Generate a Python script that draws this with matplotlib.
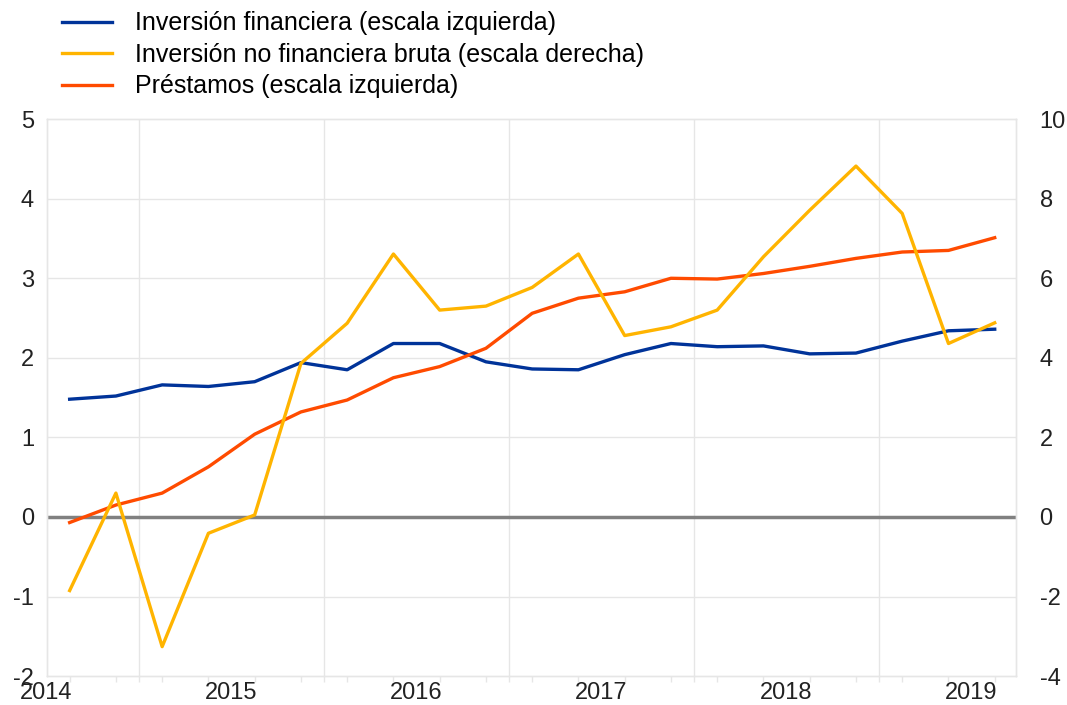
import numpy as np
import matplotlib
matplotlib.use("Agg")
import matplotlib.pyplot as plt

FONTSIZE = 17
LEGEND_FONTSIZE = 18
plt.rcParams['font.family'] = ['Liberation Sans', 'DejaVu Sans']
plt.rcParams['axes.unicode_minus'] = False

# quarterly data, 2014 Q1 - 2019 Q1
quarters = ["2014Q1", "2014Q2", "2014Q3", "2014Q4",
            "2015Q1", "2015Q2", "2015Q3", "2015Q4",
            "2016Q1", "2016Q2", "2016Q3", "2016Q4",
            "2017Q1", "2017Q2", "2017Q3", "2017Q4",
            "2018Q1", "2018Q2", "2018Q3", "2018Q4",
            "2019Q1"]
inv_financiera = [1.48, 1.52, 1.66, 1.64, 1.70, 1.94, 1.85, 2.18, 2.18, 1.95, 1.86,
                  1.85, 2.04, 2.18, 2.14, 2.15, 2.05, 2.06, 2.21, 2.34, 2.36]
inv_no_financiera = [-1.85, 0.60, -3.26, -0.41, 0.05, 3.86, 4.87, 6.61, 5.20, 5.30, 5.77,
                     6.61, 4.56, 4.78, 5.20, 6.54, 7.71, 8.82, 7.63, 4.36, 4.88]
prestamos = [-0.07, 0.15, 0.30, 0.63, 1.04, 1.32, 1.47, 1.75, 1.89, 2.12, 2.56,
             2.75, 2.83, 3.00, 2.99, 3.06, 3.15, 3.25, 3.33, 3.35, 3.51]
years = [2014, 2015, 2016, 2017, 2018, 2019]

labels = ["Inversión financiera (escala izquierda)",
          "Inversión no financiera bruta (escala derecha)",
          "Préstamos (escala izquierda)"]
BLUE = "#003399"
YELLOW = "#ffb400"
ORANGE = "#ff4b00"
GRID = "#e6e6e6"
TEXT = "#222222"

# place each quarter at its mid point
x = np.array([int(q[:4]) + (int(q[-1]) - 0.5) / 4.0 for q in quarters])

fig = plt.figure(figsize=(10.67, 7.05), dpi=100)
ax = fig.add_axes([0.0436, 0.041, 0.9086, 0.790])
ax2 = ax.twinx()

ax.set_xlim(2014.0, 2019.24)
ax.set_ylim(-2, 5)
ax2.set_ylim(-4, 10)

# grid and zero line
for y in range(-1, 5):
    ax.axhline(y, color=GRID, lw=1.0, zorder=0)
for yr in years[:-1]:
    ax.axvline(yr + 0.5, color=GRID, lw=1.0, zorder=0)
ax.axhline(0, color="#808080", lw=2.5, zorder=1)

l1, = ax.plot(x, inv_financiera, color=BLUE, lw=2.4, zorder=3)
l3, = ax.plot(x, prestamos, color=ORANGE, lw=2.4, zorder=3)
l2, = ax2.plot(x, inv_no_financiera, color=YELLOW, lw=2.4, zorder=3)

for a in (ax, ax2):
    for s in a.spines.values():
        s.set_color(GRID)
        s.set_linewidth(1.0)

ax.set_yticks(range(-2, 6))
ax.tick_params(axis='y', length=0, pad=9, labelsize=FONTSIZE, labelcolor=TEXT)
ax2.set_yticks(range(-4, 11, 2))
ax2.tick_params(axis='y', length=0, pad=17, labelsize=FONTSIZE, labelcolor=TEXT)

ax.set_xticks(years)
ax.set_xticklabels([str(y) for y in years])
ax.set_xticks(list(x) + [yr + 0.5 for yr in years[:-1]], minor=True)
ax.tick_params(axis='x', which='major', length=0, pad=4, labelsize=FONTSIZE, labelcolor=TEXT)
ax.tick_params(axis='x', which='minor', length=4, color=GRID, width=1.0)

fig.legend([l1, l2, l3], labels, loc="upper left", bbox_to_anchor=(0.049, 0.998),
           frameon=False, fontsize=LEGEND_FONTSIZE, handlelength=2.0, handletextpad=0.9,
           labelspacing=0.3, borderaxespad=0.0)

plt.savefig("out.png", dpi=100)
